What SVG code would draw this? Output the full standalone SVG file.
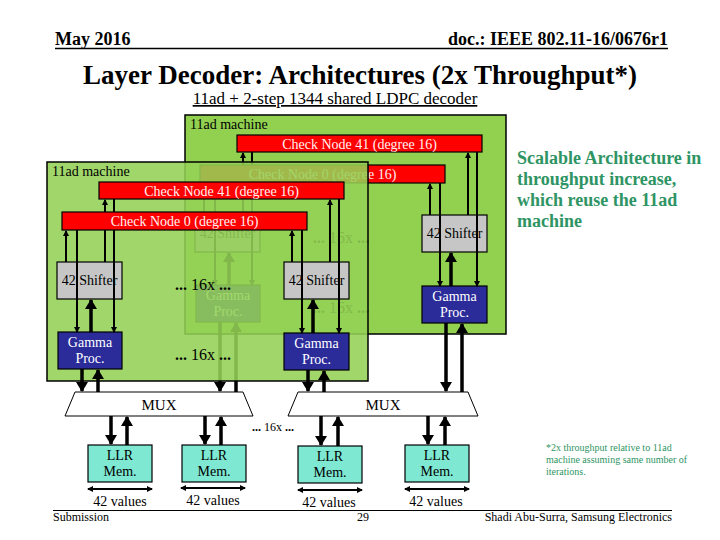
<svg xmlns="http://www.w3.org/2000/svg" width="720" height="540" viewBox="0 0 720 540" font-family="'Liberation Serif', 'Times New Roman', serif">
<defs>
<marker id="sa" markerUnits="userSpaceOnUse" markerWidth="7" markerHeight="7" refX="5" refY="3.5" orient="auto"><path d="M0,0.5 L6,3.5 L0,6.5 Z" fill="#000"/></marker>
<marker id="ta" markerUnits="userSpaceOnUse" markerWidth="12" markerHeight="12" refX="9" refY="6" orient="auto"><path d="M0,0 L10,6 L0,12 Z" fill="#000"/></marker>
<marker id="ds" markerUnits="userSpaceOnUse" markerWidth="7" markerHeight="7" refX="5" refY="3.5" orient="auto-start-reverse"><path d="M0,0.5 L6,3.5 L0,6.5 Z" fill="#000"/></marker>
</defs>
<style>
text{font-family:"Liberation Serif","Times New Roman",serif;}
.box{stroke:#000;stroke-width:1.5;}
.mach{fill:#92D050;}
.cn{fill:#FF0000;stroke:#000;stroke-width:1.2;}
.cnt{fill:#FFF0F0;font-size:14px;text-anchor:middle;}
.sh{fill:#C6C6C6;stroke:#000;stroke-width:1.2;}
.sht{fill:#000;font-size:14px;text-anchor:middle;}
.gm{fill:#2B2B9A;stroke:#000;stroke-width:1.2;}
.gmt{fill:#fff;font-size:14px;text-anchor:middle;}
.llr{fill:#7FE8D2;stroke:#000;stroke-width:1.2;}
.llrt{fill:#000;font-size:14px;text-anchor:middle;}
.thin{stroke:#000;stroke-width:2;fill:none;}
.thick{stroke:#000;stroke-width:3.5;fill:none;}
.lbl{fill:#000;font-size:14px;}
.dots{fill:#000;font-size:16px;text-anchor:middle;}
.grn{fill:#2E9463;}
</style>

<!-- header -->
<g id="header">
<text x="55" y="45" font-size="18" font-weight="bold">May 2016</text>
<text x="668" y="45" font-size="18" font-weight="bold" text-anchor="end">doc.: IEEE 802.11-16/0676r1</text>
<line x1="55" y1="48.5" x2="668" y2="48.5" stroke="#000" stroke-width="1.5"/>
<text x="360" y="84" font-size="27" font-weight="bold" text-anchor="middle">Layer Decoder: Architectures (2x Throughput*)</text>
<text x="335" y="104" font-size="17" text-anchor="middle" text-decoration="underline">11ad + 2-step 1344 shared LDPC decoder</text>
</g>

<!-- back machine -->
<g id="machine-back" transform="translate(138,-47)">
<rect class="mach box" x="47" y="162" width="321" height="219"/>
<text class="lbl" x="52" y="176">11ad machine</text>
<g id="back-shifter-l"><rect class="sh" x="57" y="262" width="65" height="37"/><text class="sht" x="89.5" y="285">42 Shifter</text></g>
<g id="back-shifter-r"><rect class="sh" x="284" y="262" width="65" height="37"/><text class="sht" x="316.5" y="285">42 Shifter</text></g>
<g id="back-gamma-l"><rect class="gm" x="58" y="332" width="64" height="37"/><text class="gmt" x="90" y="347">Gamma</text><text class="gmt" x="90" y="363">Proc.</text></g>
<g id="back-gamma-r"><rect class="gm" x="284" y="333" width="65" height="37"/><text class="gmt" x="316.5" y="348">Gamma</text><text class="gmt" x="316.5" y="364">Proc.</text></g>
<g id="back-connectors">
<line class="thin" x1="66" y1="262" x2="66" y2="231" marker-end="url(#sa)"/>
<line class="thin" x1="77" y1="230" x2="77" y2="332" marker-end="url(#sa)"/>
<line class="thick" x1="91" y1="332" x2="91" y2="300" marker-end="url(#ta)"/>
<line class="thin" x1="105" y1="262" x2="105" y2="200" marker-end="url(#sa)"/>
<line class="thin" x1="114" y1="199" x2="114" y2="332" marker-end="url(#sa)"/>
<line class="thin" x1="292" y1="262" x2="292" y2="231" marker-end="url(#sa)"/>
<line class="thin" x1="302" y1="230" x2="302" y2="333" marker-end="url(#sa)"/>
<line class="thick" x1="313" y1="333" x2="313" y2="300" marker-end="url(#ta)"/>
<line class="thin" x1="330" y1="262" x2="330" y2="200" marker-end="url(#sa)"/>
<line class="thin" x1="339" y1="199" x2="339" y2="333" marker-end="url(#sa)"/>
<line class="thick" x1="82" y1="369" x2="82" y2="438" marker-end="url(#ta)"/>
<line class="thick" x1="98" y1="439" x2="98" y2="370" marker-end="url(#ta)"/>
<line class="thick" x1="308" y1="370" x2="308" y2="438" marker-end="url(#ta)"/>
<line class="thick" x1="324" y1="439" x2="324" y2="371" marker-end="url(#ta)"/>
</g>
<g id="back-cn41"><rect class="cn" x="99" y="182" width="245" height="17"/><text class="cnt" x="221.5" y="195.5">Check Node 41 (degree 16)</text></g>
<g id="back-cn0"><rect class="cn" x="62" y="212" width="245" height="18"/><text class="cnt" x="184.5" y="226">Check Node 0 (degree 16)</text></g>
<text class="dots" x="203" y="290"><tspan font-weight="bold">...</tspan> 16x <tspan font-weight="bold">...</tspan></text>
<text class="dots" x="203" y="360"><tspan font-weight="bold">...</tspan> 16x <tspan font-weight="bold">...</tspan></text>
</g>

<!-- front machine -->
<g id="machine-front">
<rect class="box" x="47" y="162" width="321" height="219" fill="#94D255" fill-opacity="0.88"/>
<text class="lbl" x="52" y="176">11ad machine</text>
<g id="front-shifter-l"><rect class="sh" x="57" y="262" width="65" height="37"/><text class="sht" x="89.5" y="285">42 Shifter</text></g>
<g id="front-shifter-r"><rect class="sh" x="284" y="262" width="65" height="37"/><text class="sht" x="316.5" y="285">42 Shifter</text></g>
<g id="front-gamma-l"><rect class="gm" x="58" y="332" width="64" height="37"/><text class="gmt" x="90" y="347">Gamma</text><text class="gmt" x="90" y="363">Proc.</text></g>
<g id="front-gamma-r"><rect class="gm" x="284" y="333" width="65" height="37"/><text class="gmt" x="316.5" y="348">Gamma</text><text class="gmt" x="316.5" y="364">Proc.</text></g>
<g id="front-connectors">
<line class="thin" x1="66" y1="262" x2="66" y2="231" marker-end="url(#sa)"/>
<line class="thin" x1="77" y1="230" x2="77" y2="332" marker-end="url(#sa)"/>
<line class="thick" x1="91" y1="332" x2="91" y2="300" marker-end="url(#ta)"/>
<line class="thin" x1="105" y1="262" x2="105" y2="200" marker-end="url(#sa)"/>
<line class="thin" x1="114" y1="199" x2="114" y2="332" marker-end="url(#sa)"/>
<line class="thin" x1="292" y1="262" x2="292" y2="231" marker-end="url(#sa)"/>
<line class="thin" x1="302" y1="230" x2="302" y2="333" marker-end="url(#sa)"/>
<line class="thick" x1="313" y1="333" x2="313" y2="300" marker-end="url(#ta)"/>
<line class="thin" x1="330" y1="262" x2="330" y2="200" marker-end="url(#sa)"/>
<line class="thin" x1="339" y1="199" x2="339" y2="333" marker-end="url(#sa)"/>
<line class="thick" x1="82" y1="369" x2="82" y2="391" marker-end="url(#ta)"/>
<line class="thick" x1="98" y1="392" x2="98" y2="370" marker-end="url(#ta)"/>
<line class="thick" x1="308" y1="370" x2="308" y2="391" marker-end="url(#ta)"/>
<line class="thick" x1="324" y1="392" x2="324" y2="371" marker-end="url(#ta)"/>
</g>
<g id="front-cn41"><rect class="cn" x="99" y="182" width="245" height="17"/><text class="cnt" x="221.5" y="195.5">Check Node 41 (degree 16)</text></g>
<g id="front-cn0"><rect class="cn" x="62" y="212" width="245" height="18"/><text class="cnt" x="184.5" y="226">Check Node 0 (degree 16)</text></g>
<text class="dots" x="203" y="290"><tspan font-weight="bold">...</tspan> 16x <tspan font-weight="bold">...</tspan></text>
<text class="dots" x="203" y="360"><tspan font-weight="bold">...</tspan> 16x <tspan font-weight="bold">...</tspan></text>
</g>

<!-- MUXes -->
<g id="mux1"><polygon points="75,392 243,392 253,416 65,416" fill="#fff" stroke="#000" stroke-width="1"/><text x="159" y="410" font-size="15" text-anchor="middle">MUX</text></g>
<g id="mux2"><polygon points="298,392 468,392 478,416 288,416" fill="#fff" stroke="#000" stroke-width="1"/><text x="383" y="410" font-size="15" text-anchor="middle">MUX</text></g>

<!-- LLR memories -->
<g id="llr1"><rect class="llr" x="88" y="445" width="64" height="37"/><text class="llrt" x="120" y="460">LLR</text><text class="llrt" x="120" y="476">Mem.</text></g>
<g id="llr2"><rect class="llr" x="182" y="445" width="64" height="37"/><text class="llrt" x="214" y="460">LLR</text><text class="llrt" x="214" y="476">Mem.</text></g>
<g id="llr3"><rect class="llr" x="298" y="446" width="64" height="37"/><text class="llrt" x="330" y="461">LLR</text><text class="llrt" x="330" y="477">Mem.</text></g>
<g id="llr4"><rect class="llr" x="405" y="445" width="64" height="37"/><text class="llrt" x="437" y="460">LLR</text><text class="llrt" x="437" y="476">Mem.</text></g>

<g id="connectors">
<line class="thick" x1="111" y1="416" x2="111" y2="444" marker-end="url(#ta)"/>
<line class="thick" x1="127" y1="445" x2="127" y2="417" marker-end="url(#ta)"/>
<line class="thick" x1="205" y1="416" x2="205" y2="444" marker-end="url(#ta)"/>
<line class="thick" x1="221" y1="445" x2="221" y2="417" marker-end="url(#ta)"/>
<line class="thick" x1="321" y1="416" x2="321" y2="445" marker-end="url(#ta)"/>
<line class="thick" x1="338" y1="446" x2="338" y2="417" marker-end="url(#ta)"/>
<line class="thick" x1="428" y1="416" x2="428" y2="444" marker-end="url(#ta)"/>
<line class="thick" x1="445" y1="445" x2="445" y2="417" marker-end="url(#ta)"/>
<line class="thin" x1="88" y1="489" x2="152" y2="489" marker-start="url(#ds)" marker-end="url(#ds)"/>
<line class="thin" x1="181" y1="488" x2="245" y2="488" marker-start="url(#ds)" marker-end="url(#ds)"/>
<line class="thin" x1="298" y1="490" x2="362" y2="490" marker-start="url(#ds)" marker-end="url(#ds)"/>
<line class="thin" x1="405" y1="489" x2="469" y2="489" marker-start="url(#ds)" marker-end="url(#ds)"/>
</g>

<text x="273" y="431" font-size="12" text-anchor="middle"><tspan font-weight="bold">...</tspan> 16x <tspan font-weight="bold">...</tspan></text>
<text x="120" y="506" font-size="14" text-anchor="middle">42 values</text>
<text x="213" y="505" font-size="14" text-anchor="middle">42 values</text>
<text x="329" y="507" font-size="14" text-anchor="middle">42 values</text>
<text x="436" y="506" font-size="14" text-anchor="middle">42 values</text>

<!-- side notes -->
<g id="note-scalable" class="grn" font-size="18" font-weight="bold">
<text x="517" y="164">Scalable Architecture in</text>
<text x="517" y="185">throughput increase,</text>
<text x="517" y="206">which reuse the 11ad</text>
<text x="517" y="227">machine</text>
</g>
<g id="note-foot" class="grn" font-size="10">
<text x="546" y="451">*2x throughput relative to 11ad</text>
<text x="546" y="463">machine assuming same number of</text>
<text x="546" y="475">iterations.</text>
</g>

<!-- footer -->
<g id="footer">
<line x1="53" y1="510.5" x2="672" y2="510.5" stroke="#000" stroke-width="1"/>
<text x="53" y="521" font-size="12">Submission</text>
<text x="363" y="521" font-size="12" text-anchor="middle">29</text>
<text x="672" y="521" font-size="12" text-anchor="end">Shadi Abu-Surra, Samsung Electronics</text>
</g>
</svg>
